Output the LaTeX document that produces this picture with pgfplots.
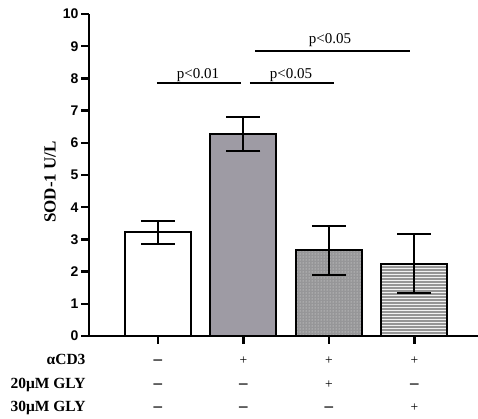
\documentclass[border=0pt]{standalone}
\usepackage{fontspec}
\setmainfont{Liberation Serif}
\setsansfont{Liberation Sans}
\usepackage{pgfplots}
\pgfplotsset{compat=1.18}
\usetikzlibrary{patterns}
\definecolor{bartwo}{RGB}{158,155,164}
\definecolor{barthree}{RGB}{150,150,152}
\definecolor{barfour}{RGB}{150,150,150}
\tikzset{plus/.style={anchor=base, font=\fontsize{13.5}{16}\selectfont},
         minus/.style={anchor=base, font=\fontsize{17}{19}\selectfont\bfseries}}
\begin{document}
\begin{tikzpicture}
\path[use as bounding box] (0,0) rectangle (478pt,419pt);
\begin{axis}[
 at={(89pt,83pt)}, anchor=south west,
 scale only axis, width=389pt, height=322pt,
 xmin=-0.807, xmax=3.743, ymin=0, ymax=10,
 axis x line*=bottom, axis y line*=left,
 axis line style={line width=2.5pt},
 ytick={0,1,...,10}, xtick={0,1,2,3}, xticklabels={},
 tick align=outside, major tick length=8pt,
 tick style={line width=2.5pt, black},
 yticklabel style={font=\fontsize{14}{16}\selectfont\sffamily\bfseries, xshift=1pt},
 /pgf/number format/assume math mode=true,
 clip=false,
 every axis plot/.append style={bar width=66pt},
]
\addplot[ybar, fill=white, draw=black, line width=2pt,
  error bars/.cd, y dir=both, y explicit,
  error bar style={line width=2pt, black},
  error mark options={rotate=90, mark size=17pt, line width=2pt, black}]
  coordinates {(0,3.22) +- (0,0.35)};
\addplot[ybar, fill=bartwo, draw=black, line width=2pt,
  error bars/.cd, y dir=both, y explicit,
  error bar style={line width=2pt, black},
  error mark options={rotate=90, mark size=17pt, line width=2pt, black}]
  coordinates {(1,6.27) +- (0,0.53)};
\addplot[ybar, fill=barthree, draw=black, line width=2pt,
  postaction={pattern=dots, pattern color=white!85!gray},
  error bars/.cd, y dir=both, y explicit,
  error bar style={line width=2pt, black},
  error mark options={rotate=90, mark size=17pt, line width=2pt, black}]
  coordinates {(2,2.66) +- (0,0.77)};
\addplot[ybar, fill=barfour, draw=black, line width=2pt,
  postaction={pattern=horizontal lines, pattern color=white!90!gray},
  error bars/.cd, y dir=both, y explicit,
  error bar style={line width=2pt, black},
  error mark options={rotate=90, mark size=17pt, line width=2pt, black}]
  coordinates {(3,2.25) +- (0,0.91)};
% significance lines
\addplot[black, line width=2pt, mark=none] coordinates {(-0.012,7.857) (0.971,7.857)};
\addplot[black, line width=2pt, mark=none] coordinates {(1.076,7.857) (2.058,7.857)};
\addplot[black, line width=2pt, mark=none] coordinates {(1.135,8.851) (2.947,8.851)};
\node[anchor=base, font=\fontsize{15}{17}\selectfont] at (axis cs:0.468,8.01) {p<0.01};
\node[anchor=base, font=\fontsize{15}{17}\selectfont] at (axis cs:1.556,8.01) {p<0.05};
\node[anchor=base, font=\fontsize{15}{17}\selectfont] at (axis cs:2.012,9.09) {p<0.05};
% y label
\node[rotate=90, font=\fontsize{17}{19}\selectfont\bfseries] at (axis cs:-1.263,4.78) {SOD-1 U/L};
% condition table
\node[anchor=base east, font=\fontsize{15.5}{17}\selectfont\bfseries] at (axis cs:-0.807,-0.90) {αCD3};
\node[anchor=base east, font=\fontsize{15.5}{17}\selectfont\bfseries] at (axis cs:-0.807,-1.625) {20μM GLY};
\node[anchor=base east, font=\fontsize{15.5}{17}\selectfont\bfseries] at (axis cs:-0.807,-2.35) {30μM GLY};
\node[minus] at (axis cs:0,-0.90) {–};
\node[minus] at (axis cs:0,-1.625) {–};
\node[minus] at (axis cs:0,-2.35) {–};
\node[plus] at (axis cs:1,-0.90) {+};
\node[minus] at (axis cs:1,-1.625) {–};
\node[minus] at (axis cs:1,-2.35) {–};
\node[plus] at (axis cs:2,-0.90) {+};
\node[plus] at (axis cs:2,-1.625) {+};
\node[minus] at (axis cs:2,-2.35) {–};
\node[plus] at (axis cs:3,-0.90) {+};
\node[minus] at (axis cs:3,-1.625) {–};
\node[plus] at (axis cs:3,-2.35) {+};
\end{axis}
\end{tikzpicture}
\end{document}
